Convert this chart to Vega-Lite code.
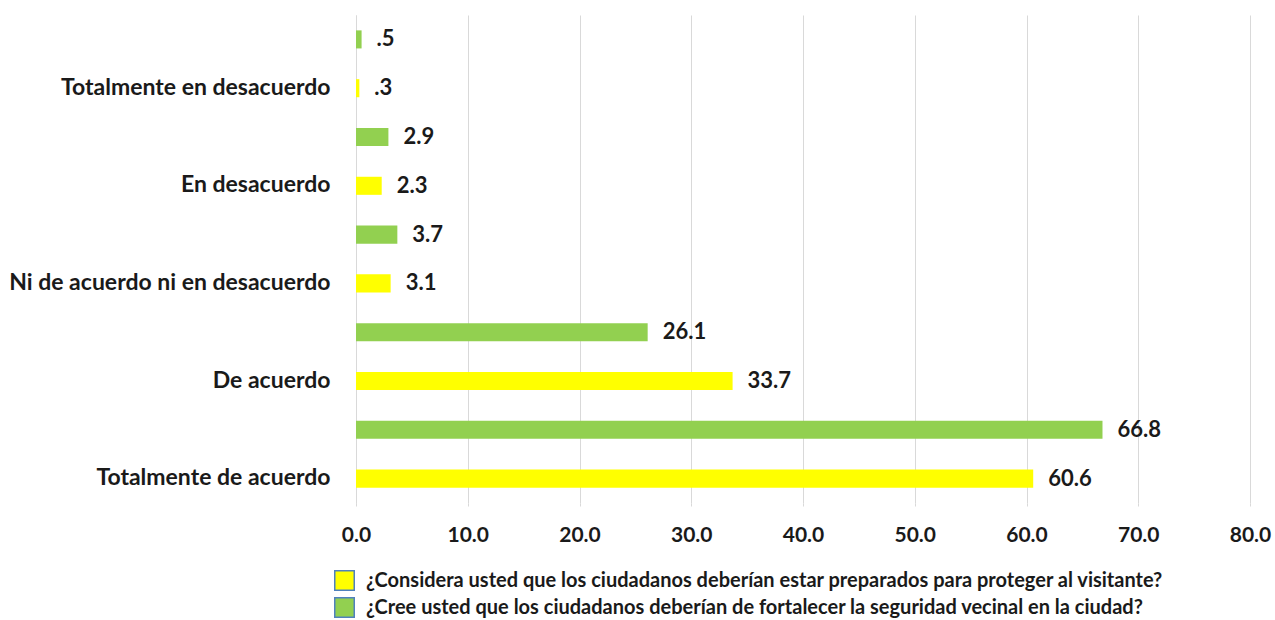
{
  "$schema": "https://vega.github.io/schema/vega-lite/v6.json",
  "width": 894,
  "height": 488,
  "autosize": {"type": "none"},
  "padding": {"left": 356, "top": 15, "right": 25, "bottom": 117},
  "background": "white",
  "config": {
    "view": {"stroke": null},
    "font": "Lato"
  },
  "data": {
    "values": [
      {"cat": "Totalmente en desacuerdo", "series": "¿Cree usted que los ciudadanos deberían de fortalecer la seguridad vecinal en la ciudad?", "value": 0.5, "label": ".5"},
      {"cat": "Totalmente en desacuerdo", "series": "¿Considera usted que los ciudadanos deberían estar preparados para proteger al visitante?", "value": 0.3, "label": ".3"},
      {"cat": "En desacuerdo", "series": "¿Cree usted que los ciudadanos deberían de fortalecer la seguridad vecinal en la ciudad?", "value": 2.9, "label": "2.9"},
      {"cat": "En desacuerdo", "series": "¿Considera usted que los ciudadanos deberían estar preparados para proteger al visitante?", "value": 2.3, "label": "2.3"},
      {"cat": "Ni de acuerdo ni en desacuerdo", "series": "¿Cree usted que los ciudadanos deberían de fortalecer la seguridad vecinal en la ciudad?", "value": 3.7, "label": "3.7"},
      {"cat": "Ni de acuerdo ni en desacuerdo", "series": "¿Considera usted que los ciudadanos deberían estar preparados para proteger al visitante?", "value": 3.1, "label": "3.1"},
      {"cat": "De acuerdo", "series": "¿Cree usted que los ciudadanos deberían de fortalecer la seguridad vecinal en la ciudad?", "value": 26.1, "label": "26.1"},
      {"cat": "De acuerdo", "series": "¿Considera usted que los ciudadanos deberían estar preparados para proteger al visitante?", "value": 33.7, "label": "33.7"},
      {"cat": "Totalmente de acuerdo", "series": "¿Cree usted que los ciudadanos deberían de fortalecer la seguridad vecinal en la ciudad?", "value": 66.8, "label": "66.8"},
      {"cat": "Totalmente de acuerdo", "series": "¿Considera usted que los ciudadanos deberían estar preparados para proteger al visitante?", "value": 60.6, "label": "60.6"}
    ]
  },
  "encoding": {
    "y": {
      "field": "cat",
      "type": "nominal",
      "sort": ["Totalmente en desacuerdo", "En desacuerdo", "Ni de acuerdo ni en desacuerdo", "De acuerdo", "Totalmente de acuerdo"],
      "scale": {"paddingInner": 0, "paddingOuter": 0},
      "axis": {
        "title": null,
        "ticks": false,
        "domain": true,
        "domainColor": "#d9d9d9",
        "labelOffset": 24,
        "labelPadding": 26,
        "labelFontSize": 23,
        "labelFontWeight": "bold",
        "labelColor": "#1a1a1a",
        "labelLimit": 400
      }
    },
    "yOffset": {
      "field": "series",
      "type": "nominal",
      "sort": ["¿Cree usted que los ciudadanos deberían de fortalecer la seguridad vecinal en la ciudad?", "¿Considera usted que los ciudadanos deberían estar preparados para proteger al visitante?"],
      "scale": {"paddingInner": 0.63, "paddingOuter": 0.315}
    },
    "x": {
      "field": "value",
      "type": "quantitative",
      "scale": {"domain": [0, 80], "nice": false},
      "axis": {
        "title": null,
        "values": [0, 10, 20, 30, 40, 50, 60, 70, 80],
        "format": ".1f",
        "grid": true,
        "gridColor": "#d9d9d9",
        "domain": false,
        "ticks": true,
        "tickColor": "#d9d9d9",
        "tickSize": 3,
        "labelFlush": false,
        "labelPadding": 18,
        "labelFontSize": 21,
        "labelFontWeight": "bold",
        "labelColor": "#1a1a1a"
      }
    }
  },
  "layer": [
    {
      "mark": {"type": "bar"},
      "encoding": {
        "color": {
          "field": "series",
          "type": "nominal",
          "sort": ["¿Considera usted que los ciudadanos deberían estar preparados para proteger al visitante?", "¿Cree usted que los ciudadanos deberían de fortalecer la seguridad vecinal en la ciudad?"],
          "scale": {
            "domain": ["¿Considera usted que los ciudadanos deberían estar preparados para proteger al visitante?", "¿Cree usted que los ciudadanos deberían de fortalecer la seguridad vecinal en la ciudad?"],
            "range": ["#ffff00", "#92d050"]
          },
          "legend": {
            "title": null,
            "orient": "none",
            "legendX": -22,
            "legendY": 555,
            "symbolType": "square",
            "symbolSize": 380,
            "symbolStrokeColor": "#4f81bd",
            "symbolStrokeWidth": 1.5,
            "labelFontSize": 20,
            "labelFont": "Lato",
            "labelFontWeight": "bold",
            "labelColor": "#1a1a1a",
            "labelLimit": 1000,
            "rowPadding": 0,
            "labelOffset": 11
          }
        }
      }
    },
    {
      "mark": {"type": "text", "align": "left", "baseline": "middle", "dx": 15, "fontSize": 22, "fontWeight": "bold", "color": "#1a1a1a"},
      "encoding": {
        "text": {"field": "label"}
      }
    }
  ]
}
